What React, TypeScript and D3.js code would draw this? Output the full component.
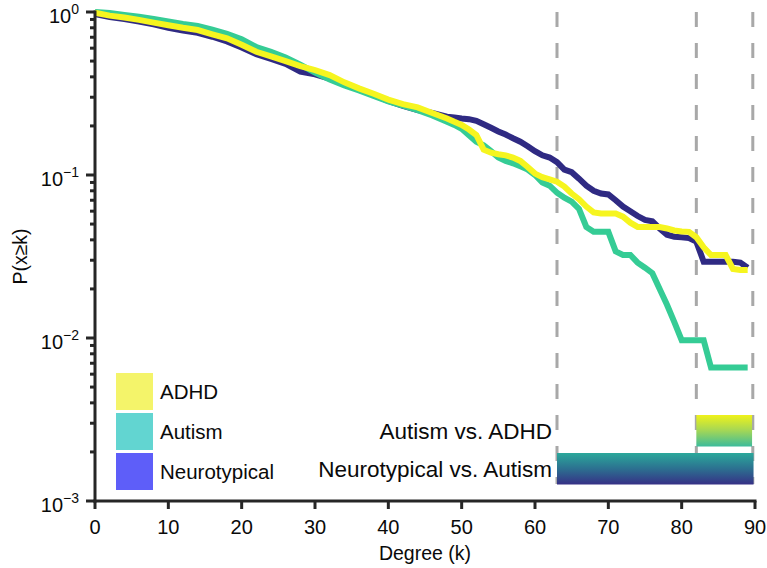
import * as d3 from "d3";

// degree k (step 2 up to 48, then every degree)
const degrees = [
  0, 2, 4, 6, 8, 10, 12, 14, 16, 18, 20, 22, 24, 26, 28, 30, 32, 34, 36, 38, 40, 42, 44, 46, 48,
  49, 50, 51, 52, 53, 54, 55, 56, 57, 58, 59, 60, 61, 62, 63, 64, 65, 66, 67, 68, 69,
  70, 71, 72, 73, 74, 75, 76, 77, 78, 79, 80, 81, 82, 83, 84, 85, 86, 87, 88, 89,
];

const neurotypical = [
  0.97, 0.93, 0.905, 0.875, 0.84, 0.8, 0.77, 0.745, 0.705, 0.66, 0.605, 0.55, 0.515, 0.48, 0.43,
  0.415, 0.39, 0.36, 0.335, 0.31, 0.285, 0.265, 0.25, 0.24, 0.228,
  0.225, 0.222, 0.22, 0.215, 0.205, 0.195, 0.185, 0.177, 0.168, 0.16, 0.15, 0.14, 0.132, 0.128,
  0.12, 0.108, 0.104, 0.095, 0.086, 0.08, 0.077, 0.076, 0.07, 0.064, 0.06, 0.056, 0.053, 0.052,
  0.047, 0.043, 0.0418, 0.0415, 0.041, 0.039, 0.0294, 0.0294, 0.0294, 0.0294, 0.0294, 0.029, 0.027,
];

const autism = [
  1.0, 0.985, 0.96, 0.935, 0.905, 0.875, 0.845, 0.82, 0.78, 0.735, 0.68, 0.61, 0.57, 0.525, 0.475,
  0.425, 0.385, 0.355, 0.33, 0.305, 0.283, 0.266, 0.25, 0.232, 0.212,
  0.203, 0.192, 0.175, 0.16, 0.152, 0.14, 0.128, 0.122, 0.118, 0.113, 0.108, 0.1, 0.09, 0.086,
  0.078, 0.0725, 0.0686, 0.062, 0.048, 0.0448, 0.0448, 0.0448, 0.034, 0.0323, 0.0323, 0.029,
  0.027, 0.025, 0.02, 0.016, 0.0125, 0.0097, 0.0097, 0.0097, 0.0097, 0.0066, 0.0066, 0.0066,
  0.0066, 0.0066, 0.0066,
];

const adhd = [
  0.99, 0.95, 0.925, 0.895, 0.86, 0.83, 0.8, 0.775, 0.73, 0.69, 0.63, 0.57, 0.535, 0.5, 0.465,
  0.44, 0.41, 0.37, 0.34, 0.315, 0.29, 0.272, 0.26, 0.24, 0.222,
  0.212, 0.203, 0.19, 0.176, 0.143, 0.137, 0.134, 0.132, 0.128, 0.122, 0.112, 0.102, 0.097, 0.094,
  0.091, 0.085, 0.077, 0.071, 0.064, 0.059, 0.058, 0.058, 0.058, 0.0555, 0.051, 0.048, 0.048,
  0.048, 0.048, 0.047, 0.0457, 0.045, 0.0448, 0.0415, 0.036, 0.0323, 0.0323, 0.0323, 0.0265,
  0.0261, 0.0261,
];

const legendLabels = ["ADHD", "Autism", "Neurotypical"];
const legendColors = ["#f4f46a", "#62d5d1", "#5e5ef9"];

const xTicks = [0, 10, 20, 30, 40, 50, 60, 70, 80, 90];
const yMajor = [1, 0.1, 0.01, 0.001];
const yExponents = ["0", "\u22121", "\u22122", "\u22123"];

// significance ranges (degree)
const dashedAt = [63, 82, 89.7];
const comparisons = ["Autism vs. ADHD", "Neurotypical vs. Autism"];
const compRanges = [
  [82, 89.6],
  [63, 89.8],
];

const W = 767, H = 568;
const left = 95, right = 755, top = 12, bottom = 501;
const font = "'Liberation Sans', Arial, Helvetica, sans-serif";
const axisColor = "#262626";
const textColor = "#0a0a0a";

export default function App() {
  const x = d3.scaleLinear().domain([0, 90]).range([left, right]);
  const y = d3.scaleLog().domain([0.001, 1]).range([bottom, top]);

  const line = d3
    .line<number>()
    .x((_, i) => x(degrees[i]))
    .y((d) => y(d));

  const series = [
    { values: neurotypical, color: "#2f2a83" },
    { values: autism, color: "#35cc95" },
    { values: adhd, color: "#f6f51f" },
  ];

  const minor: number[] = [];
  [0.001, 0.01, 0.1].forEach((dec) => {
    for (let m = 2; m <= 9; m++) minor.push(dec * m);
  });

  const barTops = [415, 453];
  const barH = 31.5;
  const gradIds = ["gradAA", "gradNA"];

  return (
    <svg
      width={W}
      height={H}
      style={{ position: "absolute", left: 0, top: 0, background: "#fff" }}
      fontFamily={font}
    >
      <defs>
        <linearGradient id="gradAA" x1="0" y1="0" x2="0" y2="1">
          <stop offset="0%" stopColor="#f0f21a" />
          <stop offset="50%" stopColor="#a2d657" />
          <stop offset="100%" stopColor="#3cbb9b" />
        </linearGradient>
        <linearGradient id="gradNA" x1="0" y1="0" x2="0" y2="1">
          <stop offset="0%" stopColor="#2ba89b" />
          <stop offset="50%" stopColor="#2c7090" />
          <stop offset="100%" stopColor="#363086" />
        </linearGradient>
      </defs>

      {/* dashed significance boundaries */}
      {dashedAt.map((d) => (
        <line
          key={d}
          x1={x(d)}
          x2={x(d)}
          y1={top}
          y2={484}
          stroke="#a8a8a8"
          strokeWidth={3}
          strokeDasharray="15 16"
        />
      ))}

      {/* gradient bars for the comparisons */}
      {comparisons.map((c, i) => (
        <g key={c}>
          <rect
            x={x(compRanges[i][0])}
            y={barTops[i]}
            width={x(compRanges[i][1]) - x(compRanges[i][0])}
            height={barH}
            fill={`url(#${gradIds[i]})`}
          />
          <text
            x={552}
            y={barTops[i] + barH / 2 + 8}
            textAnchor="end"
            fontSize={22.5}
            fill={textColor}
          >
            {c}
          </text>
        </g>
      ))}

      {/* lines */}
      {series.map((s, i) => (
        <path
          key={i}
          d={line(s.values) || ""}
          fill="none"
          stroke={s.color}
          strokeWidth={6}
          strokeLinejoin="miter"
        />
      ))}

      {/* legend */}
      {legendLabels.map((l, i) => (
        <g key={l}>
          <rect x={116} y={373 + i * 40} width={37} height={37} fill={legendColors[i]} />
          <text x={160} y={373 + i * 40 + 25.5} fontSize={20.5} fill={textColor}>
            {l}
          </text>
        </g>
      ))}

      {/* x axis */}
      <line x1={left - 1.5} x2={right + 1.5} y1={bottom} y2={bottom} stroke={axisColor} strokeWidth={3} />
      {xTicks.map((t) => (
        <g key={t}>
          <line x1={x(t)} x2={x(t)} y1={bottom} y2={bottom + 8} stroke={axisColor} strokeWidth={3} />
          <text x={x(t)} y={534} textAnchor="middle" fontSize={20} fill={textColor}>
            {t}
          </text>
        </g>
      ))}
      <text x={(left + right) / 2} y={560} textAnchor="middle" fontSize={19.5} fill={textColor}>
        Degree (k)
      </text>

      {/* y axis */}
      <line x1={left} x2={left} y1={top - 1.5} y2={bottom + 1.5} stroke={axisColor} strokeWidth={3} />
      {minor.map((t) => (
        <line key={t} x1={left - 5} x2={left} y1={y(t)} y2={y(t)} stroke={axisColor} strokeWidth={3} />
      ))}
      {yMajor.map((t, i) => (
        <g key={t}>
          <line x1={left - 9} x2={left} y1={y(t)} y2={y(t)} stroke={axisColor} strokeWidth={3} />
          <text x={79} y={y(t) + 11} textAnchor="end" fontSize={20} fill={textColor}>
            10
            <tspan fontSize={14} dy={-9}>
              {yExponents[i]}
            </tspan>
          </text>
        </g>
      ))}
      <text
        transform={`translate(27, ${(top + bottom) / 2}) rotate(-90)`}
        textAnchor="middle"
        fontSize={19.5}
        fill={textColor}
      >
        P(x≥k)
      </text>
    </svg>
  );
}
